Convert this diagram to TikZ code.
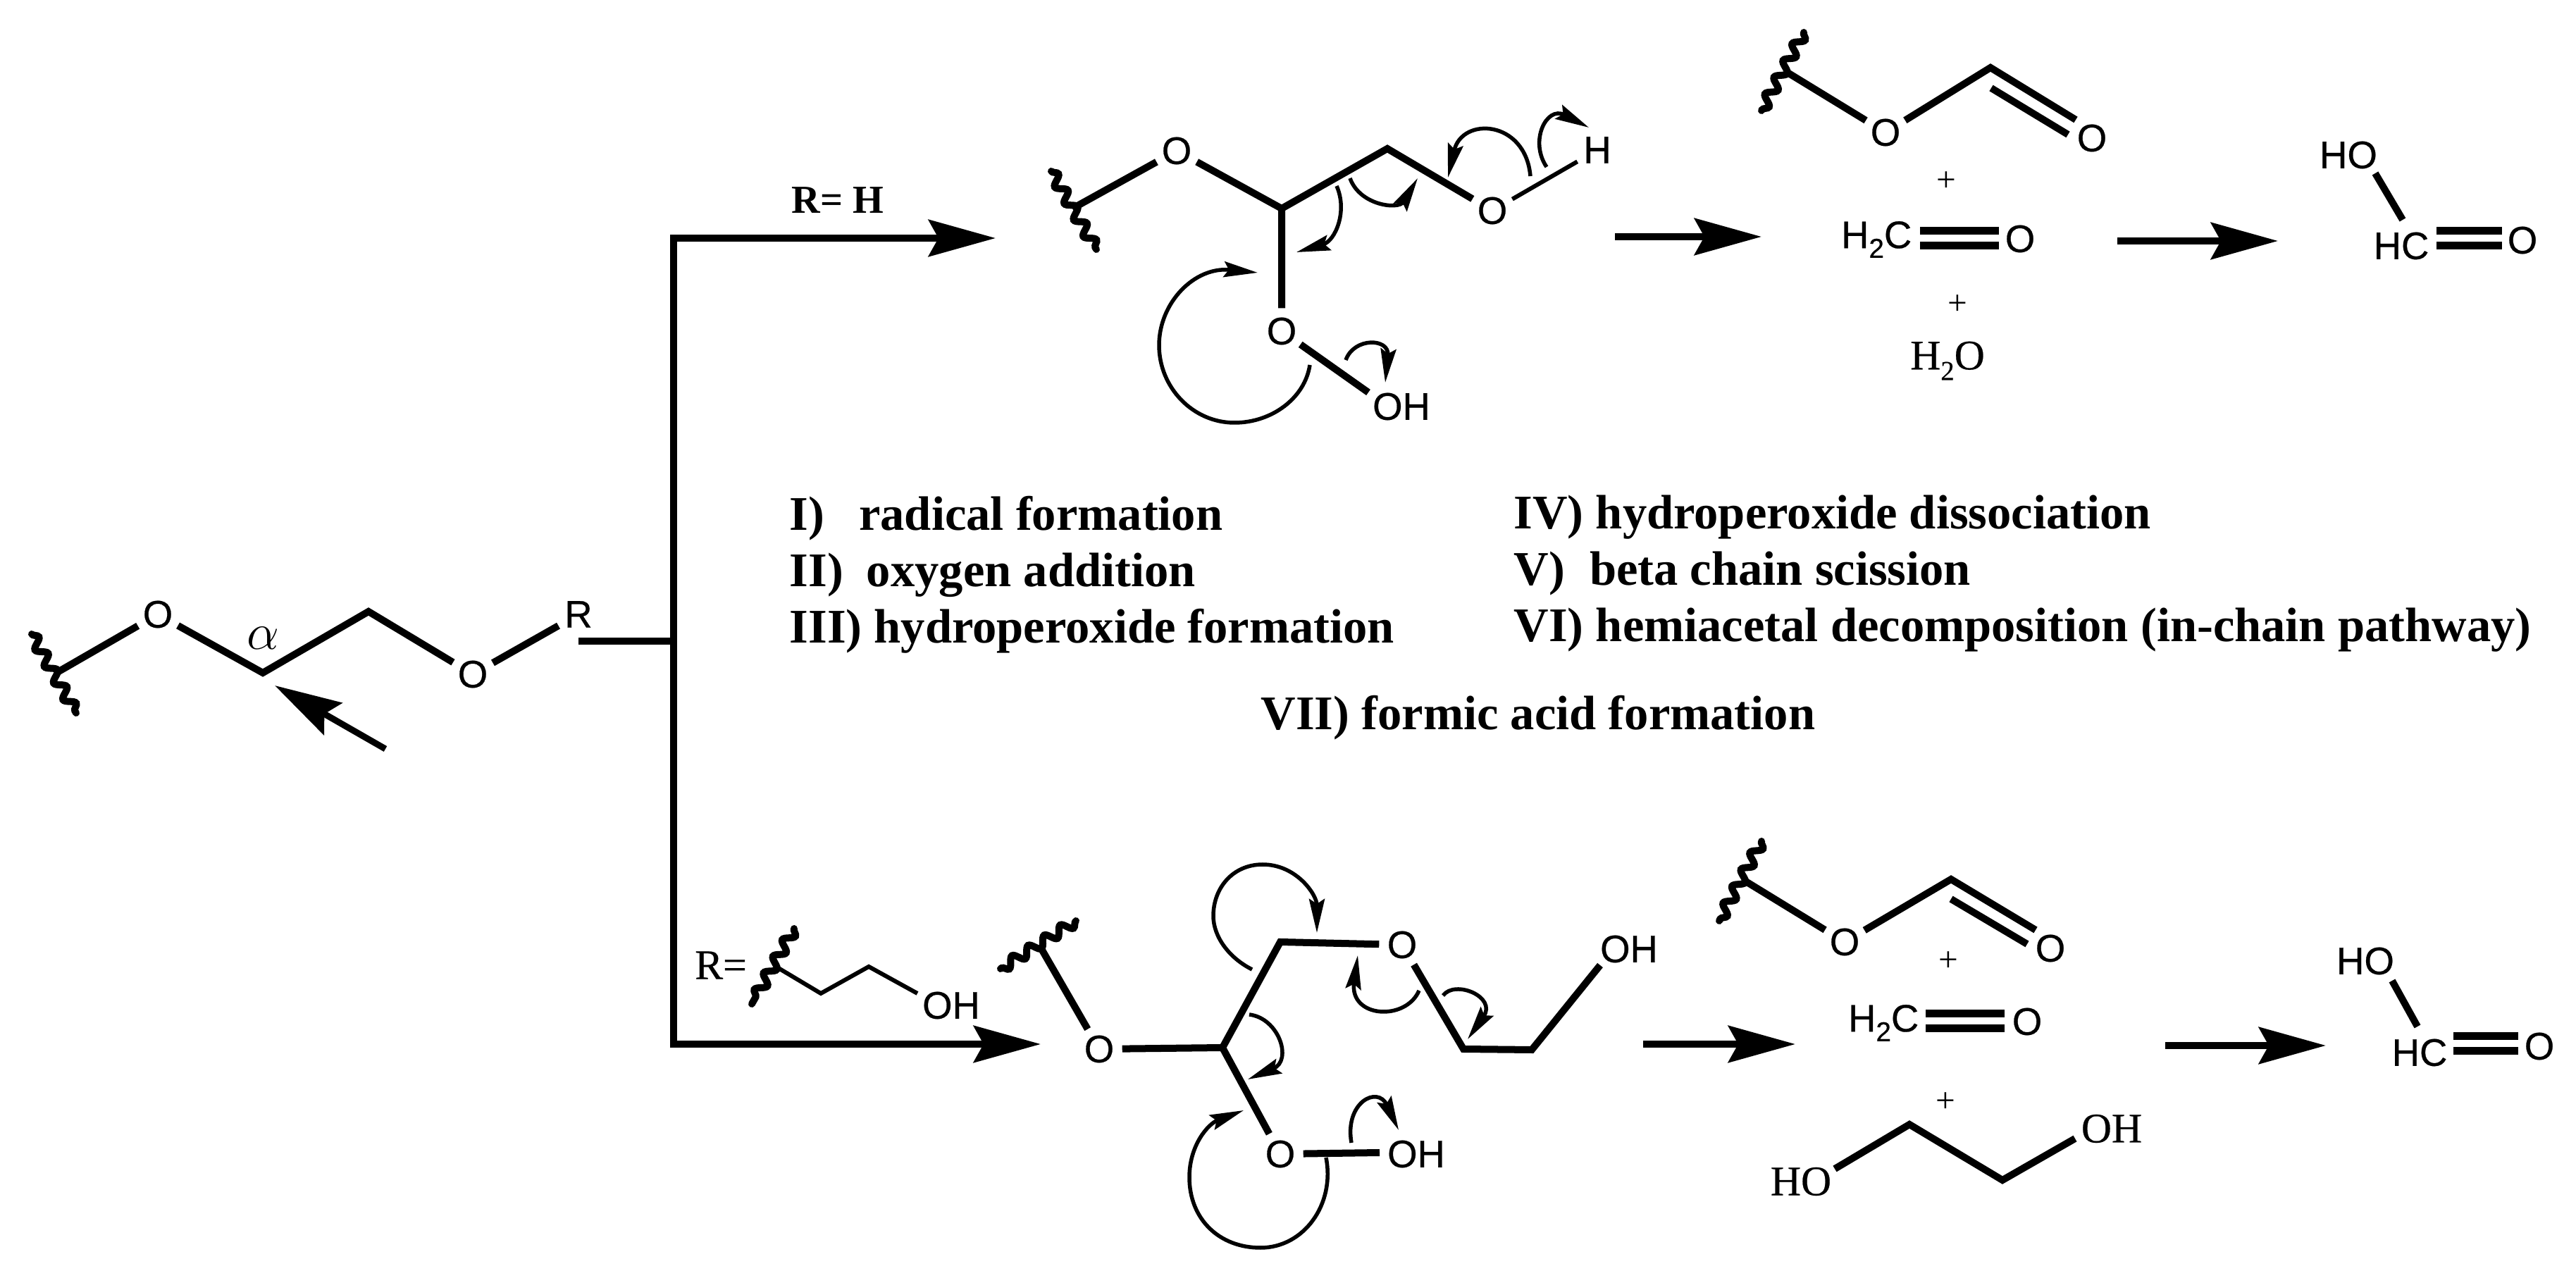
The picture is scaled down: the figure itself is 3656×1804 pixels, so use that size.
\documentclass[tikz,border=0pt]{standalone}
\usepackage{fontspec}
\setmainfont{Liberation Serif}
\newfontfamily\chemsans[FakeBold=0.5]{Liberation Sans}
\newfontfamily\chemserif[FakeBold=0.4]{Liberation Serif}
\usetikzlibrary{arrows.meta,decorations.pathmorphing}
\newcommand{\lowtwo}{\raisebox{-0.25em}{\fontsize{11}{11}\selectfont 2}}
\tikzset{
	atom/.style={circle,inner sep=0pt,minimum size=0.64cm,font=\chemsans\fontsize{15.5}{15.5}\selectfont},
	group/.style={inner sep=0pt,font=\chemsans\fontsize{15.5}{15.5}\selectfont},
	serifgroup/.style={inner sep=0pt,font=\chemserif\fontsize{17}{17}\selectfont},
	plus/.style={inner sep=0pt,font=\fontsize{14}{14}\selectfont},
	step label/.style={inner sep=0pt,anchor=base west,font=\bfseries\fontsize{19.5}{19.5}\selectfont},
	bond/.style={line width=0.1cm},
	thinbond/.style={line width=0.06cm},
	dbl/.style={line width=0.105cm,double,double distance=0.105cm},
	wavy/.style={line width=0.1cm,line cap=round,decorate,decoration={snake,amplitude=0.07cm,segment length=0.27cm}},
	main/.style={line width=0.1cm,-{Stealth[length=0.95cm,width=0.52cm,inset=0.14cm]}},
	curly/.style={line width=0.055cm,-{Stealth[length=0.48cm,width=0.22cm,inset=0.07cm]}}
}
\begin{document}
\begin{tikzpicture}[x=0.01cm,y=-0.01cm,line join=miter]
	\useasboundingbox (0,0) rectangle (3656,1804);

	\coordinate (aWa) at (45,900);
	\coordinate (aWb) at (108,1012);
	\coordinate (aW) at (80,955);
	\node[atom] (aOa) at (224,872) {O};
	\coordinate (aCa) at (373,955);
	\coordinate (aCb) at (523,868);
	\node[atom] (aOb) at (671,957) {O};
	\node[atom] (aR) at (821,872) {R};
	\node[inner sep=0pt,font=\fontsize{22}{22}\selectfont] (aAlpha) at (373,906) {$\alpha$};
	\coordinate (aHit) at (390,973);
	\coordinate (aTail) at (547,1063);
	\draw[wavy] (aWa)--(aWb);
	\draw[bond] (aW)--(aOa)--(aCa)--(aCb)--(aOb)--(aR);
	\draw[line width=0.09cm,-{Stealth[length=0.95cm,width=0.52cm,inset=0.14cm]}] (aTail)--(aHit);

	\coordinate (bStem) at (821,910);
	\coordinate (bMid) at (956,910);
	\coordinate (bTop) at (956,338);
	\coordinate (bBot) at (956,1482);
	\coordinate (bTopEnd) at (1413,338);
	\coordinate (bBotEnd) at (1477,1482);
	\draw[line width=0.1cm] (bStem)--(bMid);
	\draw[main] (bMid)--(bTop)--(bTopEnd);
	\draw[main] (bMid)--(bBot)--(bBotEnd);
	\node[inner sep=0pt,font=\bfseries\fontsize{16}{16}\selectfont] (rTop) at (1189,284) {R= H};

	\coordinate (tWa) at (1492,243);
	\coordinate (tWb) at (1556,354);
	\coordinate (tW) at (1522,296);
	\node[atom] (tOa) at (1670,214) {O};
	\coordinate (tCa) at (1819,296);
	\coordinate (tCb) at (1969,211);
	\node[atom] (tOb) at (2118,299) {O};
	\node[atom] (tH) at (2267,213) {H};
	\node[atom] (tOc) at (1819,470) {O};
	\node[group] (tOH) at (1989,577) {OH};
	\coordinate (tOHb) at (1942,557);
	\draw[wavy] (tWa)--(tWb);
	\draw[bond] (tW)--(tOa)--(tCa)--(tCb)--(tOb);
	\draw[thinbond] (tOb)--(tH);
	\draw[bond] (tCa)--(tOc)--(tOHb);

	\coordinate (cAs) at (1859,518);
	\coordinate (cAe) at (1785,387);
	\coordinate (cBs) at (1897,264);
	\coordinate (cBe) at (1840,358);
	\coordinate (cCs) at (1916,253);
	\coordinate (cCe) at (2012,253);
	\coordinate (cDs) at (2172,250);
	\coordinate (cDe) at (2055,252);
	\coordinate (cEs) at (1910,511);
	\coordinate (cEe) at (1966,543);
	\coordinate (cFs) at (2195,237);
	\coordinate (cFe) at (2255,181);
	\draw[curly] (cAs) .. controls (1852,565) and (1805,600) .. (1752,600) .. controls (1693,600) and (1645,550) .. (1645,490) .. controls (1645,430) and (1695,378) .. (cAe);
	\draw[curly] (cBs) .. controls (1913,300) and (1895,342) .. (cBe);
	\draw[curly] (cCs) .. controls (1930,292) and (1985,298) .. (cCe);
	\draw[curly] (cDs) .. controls (2165,170) and (2075,165) .. (cDe);
	\draw[curly] (cEs) .. controls (1922,478) and (1972,480) .. (cEe);
	\draw[curly] (cFs) .. controls (2170,200) and (2195,150) .. (cFe);

	\coordinate (rAs) at (2292,336);
	\coordinate (rAe) at (2500,336);
	\coordinate (rBs) at (3005,342);
	\coordinate (rBe) at (3233,342);
	\draw[main] (rAs)--(rAe);
	\draw[main] (rBs)--(rBe);

	\coordinate (pWa) at (2560,46);
	\coordinate (pWb) at (2500,157);
	\coordinate (pW) at (2532,100);
	\node[atom] (pOa) at (2676,188) {O};
	\coordinate (pC) at (2825,96);
	\coordinate (pDa) at (2946,170);
	\coordinate (pDb) at (2826,125);
	\coordinate (pDc) at (2935,191);
	\node[atom] (pOb) at (2969,196) {O};
	\draw[wavy] (pWa)--(pWb);
	\draw[bond] (pW)--(pOa)--(pC)--(pDa);
	\draw[bond] (pDb)--(pDc);
	\node[plus] (pPa) at (2762,258) {+};
	\node[group,anchor=east] (pCH) at (2714,340) {H\lowtwo C};
	\coordinate (pCHa) at (2725,338);
	\coordinate (pCHb) at (2837,338);
	\node[atom] (pOc) at (2867,339) {O};
	\draw[dbl] (pCHa)--(pCHb);
	\node[plus] (pPb) at (2778,433) {+};
	\node[serifgroup] (pWater) at (2764,512) {H\lowtwo O};

	\node[group] (fHO) at (3333,220) {HO};
	\coordinate (fHOb) at (3371,246);
	\coordinate (fCb) at (3410,312);
	\node[group] (fHC) at (3408,349) {HC};
	\coordinate (fDa) at (3458,338);
	\coordinate (fDb) at (3551,338);
	\node[atom] (fO) at (3580,341) {O};
	\draw[bond] (fHOb)--(fCb);
	\draw[dbl] (fDa)--(fDb);

	\node[step label] (sA) at (1120,753) {I)\hspace{0.49cm}radical formation};
	\node[step label] (sB) at (1120,833) {II)\hspace{0.33cm}oxygen addition};
	\node[step label] (sC) at (1120,913) {III) hydroperoxide formation};
	\node[step label] (sD) at (2148,751) {IV) hydroperoxide dissociation};
	\node[step label] (sE) at (2148,831) {V)\hspace{0.35cm}beta chain scission};
	\node[step label] (sF) at (2148,911) {VI) hemiacetal decomposition (in-chain pathway)};
	\node[step label] (sG) at (1789,1036) {VII) formic acid formation};

	\node[serifgroup] (rBot) at (1023,1370) {R=};
	\coordinate (rWa) at (1127,1318);
	\coordinate (rWb) at (1067,1425);
	\coordinate (rW) at (1103,1373);
	\coordinate (rCa) at (1165,1410);
	\coordinate (rCb) at (1233,1372);
	\coordinate (rCc) at (1302,1410);
	\node[group] (rOH) at (1350,1427) {OH};
	\draw[wavy] (rWa)--(rWb);
	\draw[thinbond] (rW)--(rCa)--(rCb)--(rCc);

	\coordinate (lWa) at (1527,1307);
	\coordinate (lWb) at (1420,1375);
	\coordinate (lW) at (1477,1345);
	\node[atom] (lOa) at (1560,1489) {O};
	\coordinate (lCa) at (1735,1487);
	\coordinate (lCb) at (1817,1337);
	\node[atom] (lOb) at (1990,1341) {O};
	\coordinate (lCc) at (2077,1489);
	\coordinate (lCd) at (2174,1490);
	\node[group] (lOHa) at (2312,1347) {OH};
	\coordinate (lOHab) at (2271,1370);
	\node[atom] (lOc) at (1817,1638) {O};
	\node[group] (lOHb) at (2010,1638) {OH};
	\coordinate (lOHbb) at (1958,1636);
	\draw[wavy] (lWa)--(lWb);
	\draw[bond] (lW)--(lOa)--(lCa)--(lCb)--(lOb)--(lCc)--(lCd)--(lOHab);
	\draw[bond] (lCa)--(lOc)--(lOHbb);

	\coordinate (dAs) at (1777,1376);
	\coordinate (dAe) at (1869,1324);
	\coordinate (dBs) at (1773,1440);
	\coordinate (dBe) at (1771,1532);
	\coordinate (dCs) at (2014,1406);
	\coordinate (dCe) at (1927,1356);
	\coordinate (dDs) at (2048,1413);
	\coordinate (dDe) at (2083,1475);
	\coordinate (dEs) at (1882,1643);
	\coordinate (dEe) at (1765,1576);
	\coordinate (dFs) at (1918,1622);
	\coordinate (dFe) at (1985,1604);
	\draw[curly] (dAs) .. controls (1745,1360) and (1722,1330) .. (1722,1300) .. controls (1722,1260) and (1750,1227) .. (1792,1227) .. controls (1840,1227) and (1869,1270) .. (dAe);
	\draw[curly] (dBs) .. controls (1815,1445) and (1835,1505) .. (dBe);
	\draw[curly] (dCs) .. controls (1995,1450) and (1915,1445) .. (dCe);
	\draw[curly] (dDs) .. controls (2065,1390) and (2125,1415) .. (dDe);
	\draw[curly] (dEs) .. controls (1895,1710) and (1850,1771) .. (1789,1771) .. controls (1730,1771) and (1688,1730) .. (1688,1671) .. controls (1688,1625) and (1715,1595) .. (dEe);
	\draw[curly] (dFs) .. controls (1908,1565) and (1955,1540) .. (dFe);

	\coordinate (rCs) at (2332,1482);
	\coordinate (rCe) at (2548,1482);
	\coordinate (rDs) at (3073,1484);
	\coordinate (rDe) at (3301,1484);
	\draw[main] (rCs)--(rCe);
	\draw[main] (rDs)--(rDe);

	\coordinate (qWa) at (2500,1194);
	\coordinate (qWb) at (2440,1307);
	\coordinate (qW) at (2476,1250);
	\node[atom] (qOa) at (2618,1337) {O};
	\coordinate (qC) at (2769,1248);
	\coordinate (qDa) at (2889,1320);
	\coordinate (qDb) at (2769,1276);
	\coordinate (qDc) at (2877,1340);
	\node[atom] (qOb) at (2910,1346) {O};
	\draw[wavy] (qWa)--(qWb);
	\draw[bond] (qW)--(qOa)--(qC)--(qDa);
	\draw[bond] (qDb)--(qDc);
	\node[plus] (qPa) at (2765,1365) {+};
	\node[group,anchor=east] (qCH) at (2724,1452) {H\lowtwo C};
	\coordinate (qCHa) at (2733,1449);
	\coordinate (qCHb) at (2845,1449);
	\node[atom] (qOc) at (2877,1450) {O};
	\draw[dbl] (qCHa)--(qCHb);
	\node[plus] (qPb) at (2761,1565) {+};
	\node[serifgroup] (qHO) at (2556,1677) {HO};
	\coordinate (qHOb) at (2604,1659);
	\coordinate (qGa) at (2710,1596);
	\coordinate (qGb) at (2842,1675);
	\coordinate (qOHb) at (2945,1616);
	\node[serifgroup] (qOH) at (2997,1602) {OH};
	\draw[bond] (qHOb)--(qGa)--(qGb)--(qOHb);

	\node[group] (gHO) at (3357,1364) {HO};
	\coordinate (gHOb) at (3395,1392);
	\coordinate (gCb) at (3431,1457);
	\node[group] (gHC) at (3434,1494) {HC};
	\coordinate (gDa) at (3482,1481);
	\coordinate (gDb) at (3574,1481);
	\node[atom] (gO) at (3604,1485) {O};
	\draw[bond] (gHOb)--(gCb);
	\draw[dbl] (gDa)--(gDb);
\end{tikzpicture}
\end{document}
